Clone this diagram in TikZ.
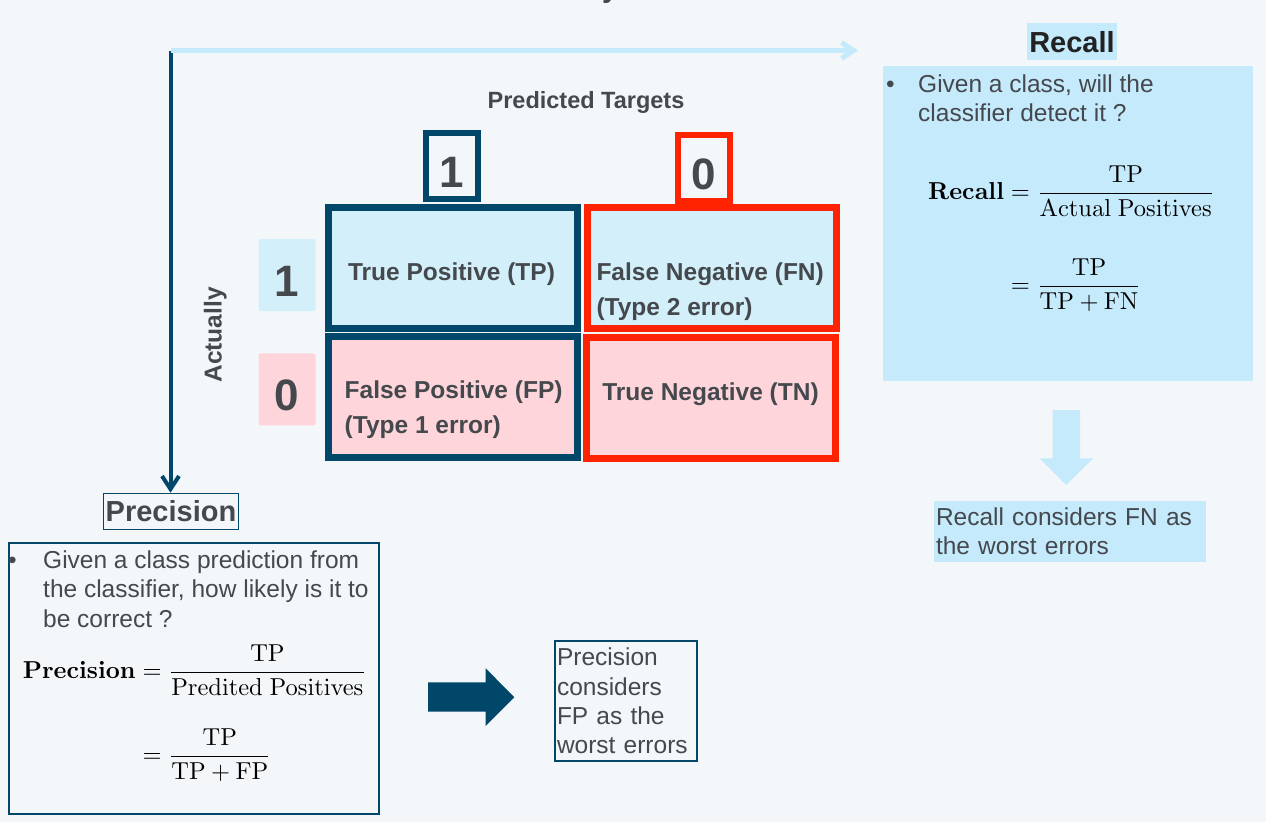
\documentclass[tikz,border=0pt]{standalone}
\usepackage{amsmath}
\usepackage[no-math]{fontspec}
\setmainfont{Liberation Sans}
\usetikzlibrary{arrows.meta}
\definecolor{bgcol}{HTML}{F3F7F9}
\definecolor{navy}{HTML}{00476A}
\definecolor{redline}{HTML}{FF2301}
\definecolor{cellblue}{HTML}{D3F0FA}
\definecolor{cellpink}{HTML}{FDD5DA}
\definecolor{recallblue}{HTML}{C5EAFC}
\definecolor{txtgray}{HTML}{45494E}
\definecolor{titleblack}{HTML}{222222}
\newcommand{\fs}[2]{\fontsize{#1}{#2}\selectfont}

\begin{document}
\begin{tikzpicture}[x=1pt, y=-1pt,
  body/.style={font=\fs{24.5}{29}, text=txtgray, inner sep=0pt},
  celltext/.style={font=\bfseries\fs{24.5}{35}, text=txtgray, inner sep=0pt, align=left},
  cell/.style={draw, line width=6.5pt, minimum width=249pt, minimum height=121pt, inner sep=0pt},
  digit/.style={font=\bfseries\fs{44}{48}, text=txtgray, text height=42pt, text depth=0pt, inner sep=0pt},
  headbox/.style={digit, draw, line width=5.5pt, minimum width=52pt, minimum height=66pt},
  rowbox/.style={digit, minimum width=57pt, minimum height=72pt, rounded corners=2pt},
  titlebox/.style={font=\bfseries\fs{29}{29}, inner sep=0pt},
  mathbox/.style={font=\fs{10}{12}, inner sep=0pt}]
\path[fill=bgcol, use as bounding box] (0,0) rectangle (1266,822);
\node[font=\bfseries\fs{29}{29}, text=txtgray, anchor=base west, inner sep=0pt] (topy) at (602,-3) {y};

\node[body, font=\bfseries\fs{23.5}{28}, anchor=base] (predicted) at (586,108.3) {Predicted Targets};
\node[headbox, draw=navy] (H1) at (452,166) {1};
\node[headbox, draw=redline] (H0) at (704,168) {0};
\node[cell, draw=navy, fill=cellblue] (TP) at (453,268) {};
\node[cell, draw=redline, fill=cellblue] (FN) at (712,268) {};
\node[cell, draw=navy, fill=cellpink] (FP) at (453,397) {};
\node[cell, draw=redline, fill=cellpink] (TN) at (711,398) {};
\node[celltext, anchor=base] (TPtext) at (451.5,280) {True Positive (TP)};
\node[celltext, anchor=north west] (FNtext) at (596.3,262.9) {False Negative (FN)\\(Type 2 error)};
\node[celltext, anchor=north west] (FPtext) at (344.5,380.5) {False Positive (FP)\\(Type 1 error)};
\node[celltext, anchor=base] (TNtext) at (710.5,400) {True Negative (TN)};
\node[rowbox, fill=cellblue] (R1) at (287,275) {1};
\node[rowbox, fill=cellpink] (R0) at (287,389.4) {0};
\node[body, font=\bfseries\fs{24.5}{29}, rotate=90] (actually) at (215.4,335) {Actually};

\node[titlebox, draw=navy, line width=1.2pt, text=txtgray, minimum width=135pt, minimum height=36pt] (precTitle) at (171,511.3) {Precision};
\node[draw=navy, line width=1.2pt, minimum width=370pt, minimum height=271pt] (precBox) at (194,678.5) {};
\node[body, anchor=base west] (precDot) at (8,568) {\textbullet};
\node[body, font=\fs{24.5}{29.5}, align=left, anchor=north west] (precText) at (43,550.2) {Given a class prediction from\\the classifier, how likely is it to\\be correct ?};
\node[mathbox, anchor=west] (precEq) at (22.7,713) {\scalebox{2.45}{$\begin{aligned}\mathbf{Precision} &= \frac{\mathrm{TP}}{\mathrm{Predited\ Positives}}\\[9.8pt] &= \frac{\mathrm{TP}}{\mathrm{TP}+\mathrm{FP}}\end{aligned}$}};
\fill[navy] (428,682.3) -- (485.7,682.3) -- (485.7,668.3) -- (514.3,697.3) -- (485.7,726) -- (485.7,711.7) -- (428,711.7) -- cycle;
\node[body, draw=navy, line width=1.2pt, font=\fs{24.5}{29.3}, minimum width=142pt, minimum height=120pt, text width=138pt, align=left] (precNote) at (626,701) {Precision\\considers\\FP as the\\worst errors};

\node[titlebox, fill=recallblue, text=titleblack, minimum width=90pt, minimum height=37pt] (recTitle) at (1072,41.7) {Recall};
\node[fill=recallblue, minimum width=370pt, minimum height=315pt] (recBox) at (1068,223.3) {};
\node[body, anchor=base west] (recDot) at (886,92) {\textbullet};
\node[body, align=left, anchor=north west] (recText) at (918,74.2) {Given a class, will the\\classifier detect it ?};
\node[mathbox, anchor=west] (recEq) at (928,238.5) {\scalebox{2.45}{$\begin{aligned}\mathbf{Recall} &= \frac{\mathrm{TP}}{\mathrm{Actual\ Positives}}\\[13.5pt] &= \frac{\mathrm{TP}}{\mathrm{TP}+\mathrm{FN}}\end{aligned}$}};
\fill[recallblue] (1052.7,410) -- (1080,410) -- (1080,458.3) -- (1093.3,458.3) -- (1066,485) -- (1039.3,458.3) -- (1052.7,458.3) -- cycle;
\node[body, fill=recallblue, minimum width=272pt, minimum height=61pt, text width=268pt, align=left] (recNote) at (1070,531.3) {Recall considers FN as\\the worst errors};

\coordinate (corner) at (170.5,50.5);
\coordinate (recTip) at (858,50.5);
\draw[navy, line width=4pt, -{Straight Barb[length=13pt,width=17pt]}] (corner) -- (precTitle.north -| corner);
\draw[recallblue, line width=5pt, -{Straight Barb[length=12pt,width=16pt]}] (corner) -- (recTip);
\end{tikzpicture}
\end{document}
